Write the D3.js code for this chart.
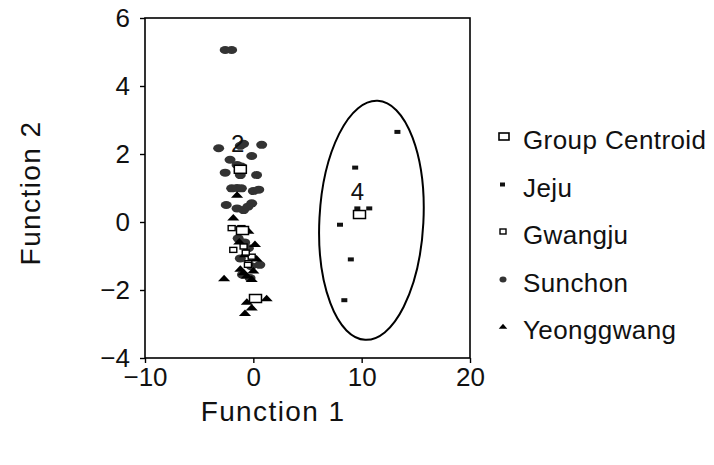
<!doctype html>
<html>
<head>
<meta charset="utf-8">
<title>Discriminant functions</title>
<script src="https://cdnjs.cloudflare.com/ajax/libs/d3/7.8.5/d3.min.js"></script>
<style>
  body { margin: 0; background: #fff; }
  svg { display: block; font-family: "Liberation Sans", Arial, sans-serif; }
  .frame { fill: none; stroke: #000; stroke-width: 1.6; }
  .tick text { font-size: 26px; fill: #111; }
  .tick line { stroke: #000; stroke-width: 1.4; }
  .domain { display: none; }
  .title { font-size: 28px; fill: #111; letter-spacing: 1.4px; }
  .legend text { font-size: 26px; fill: #111; letter-spacing: 0.4px; }
</style>
</head>
<body>
<svg width="714" height="465"></svg>
<script>
// values (function 1, function 2)
var jeju = [[13.3, 2.65], [9.4, 1.6], [10.7, 0.4], [9.6, 0.4], [8.0, -0.08], [9.0, -1.1], [8.4, -2.3]];
var sunchon = [[-2.6, 5.06], [-2.0, 5.06], [-3.2, 2.17], [0.77, 2.27], [-1.2, 2.24], [-0.9, 2.3],
  [-0.15, 1.94], [-2.15, 1.83], [-1.5, 1.68], [-1.1, 1.63], [-1.3, 1.5], [-2.6, 1.45], [0.3, 1.38],
  [-1.2, 1.38], [-2.0, 0.99], [-1.5, 1.0], [-1.1, 0.99], [0.0, 0.91], [0.5, 0.95], [-2.5, 0.5],
  [-1.5, 0.4], [-0.15, 0.55], [-0.9, 0.35], [-0.5, 0.45], [-1.4, -0.48], [-0.46, -0.77],
  [0.6, -1.26], [-1.2, -1.07], [-0.2, -1.3], [-0.8, -0.6], [-1.0, -1.55], [-0.3, -1.65]];
var gwangju = [[-2.0, -0.18], [-1.85, -0.82], [-0.9, -0.72], [-0.46, -1.21], [-0.15, -1.02],
  [-1.1, -0.18], [-0.7, -0.9], [-0.5, -1.26]];
var yeonggwang = [[-2.7, -1.68], [1.23, -2.27], [-0.6, -2.37], [-0.15, -2.54], [-0.77, -2.7],
  [-1.85, 0.11], [-1.5, 0.78], [-0.46, -0.28], [0.15, -0.67], [-0.9, -1.5], [-0.15, -1.7],
  [-1.2, -1.4], [-0.6, -1.6], [0.3, -1.1], [-0.77, -0.97], [-1.3, -0.6], [0.0, -1.45]];
var centroids = [[9.8, 0.22], [-1.2, 1.55], [-1.0, -0.25], [0.2, -2.25]];
var centroidLabels = [{ t: "4", x: 9.6, y: 0.65 }, { t: "2", x: -1.45, y: 2.05 }];
var ellipse = { cx: 10.9, cy: 0.05, rx: 4.8, ry: 3.52, tilt: 3 };
var xTicks = [-10, 0, 10, 20];
var yTicks = [-4, -2, 0, 2, 4, 6];
var legendItems = ["Group Centroid", "Jeju", "Gwangju", "Sunchon", "Yeonggwang"];

var svg = d3.select("svg");
var x = d3.scaleLinear().domain([-10, 20]).range([145, 470]);
var y = d3.scaleLinear().domain([-4, 6]).range([358, 18]);

svg.append("rect").attr("class", "frame")
  .attr("x", 145).attr("y", 18).attr("width", 325).attr("height", 340);

var fmt = function (d) { return d < 0 ? "\u2212" + Math.abs(d) : d; };
svg.append("g").attr("transform", "translate(0,358)")
  .call(d3.axisBottom(x).tickValues(xTicks).tickFormat(fmt).tickSize(5).tickPadding(5));
svg.append("g").attr("transform", "translate(145,0)")
  .call(d3.axisLeft(y).tickValues(yTicks).tickFormat(fmt).tickSize(5).tickPadding(10));

svg.append("text").attr("class", "title").attr("x", 273).attr("y", 421)
  .attr("text-anchor", "middle").text("Function 1");
svg.append("text").attr("class", "title")
  .attr("transform", "translate(40,193) rotate(-90)")
  .attr("text-anchor", "middle").text("Function 2");

// ellipse round the Jeju group
svg.append("ellipse")
  .attr("cx", x(ellipse.cx)).attr("cy", y(ellipse.cy))
  .attr("rx", x(ellipse.rx) - x(0)).attr("ry", y(0) - y(ellipse.ry))
  .attr("transform", "rotate(" + ellipse.tilt + "," + x(ellipse.cx) + "," + y(ellipse.cy) + ")")
  .attr("fill", "none").attr("stroke", "#000").attr("stroke-width", 2);

var tri = d3.symbol().type(d3.symbolTriangle).size(38);

svg.append("g").selectAll("ellipse").data(sunchon).enter().append("ellipse")
  .attr("cx", d => x(d[0])).attr("cy", d => y(d[1]))
  .attr("rx", 5.5).attr("ry", 4).attr("fill", "#333");

svg.append("g").selectAll("path").data(yeonggwang).enter().append("path")
  .attr("d", tri).attr("transform", d => "translate(" + x(d[0]) + "," + y(d[1]) + ") scale(1.3,0.8)")
  .attr("fill", "#000");

svg.append("g").selectAll("rect").data(gwangju).enter().append("rect")
  .attr("x", d => x(d[0]) - 3.5).attr("y", d => y(d[1]) - 2.5)
  .attr("width", 7).attr("height", 5)
  .attr("fill", "#fff").attr("stroke", "#000").attr("stroke-width", 1.4);

svg.append("g").selectAll("rect").data(jeju).enter().append("rect")
  .attr("x", d => x(d[0]) - 3).attr("y", d => y(d[1]) - 2)
  .attr("width", 6).attr("height", 4).attr("fill", "#111");

svg.append("g").selectAll("rect").data(centroids).enter().append("rect")
  .attr("x", d => x(d[0]) - 6).attr("y", d => y(d[1]) - 4)
  .attr("width", 12).attr("height", 8)
  .attr("fill", "#fff").attr("stroke", "#000").attr("stroke-width", 1.5);

svg.append("g").selectAll("text").data(centroidLabels).enter().append("text")
  .attr("x", d => x(d.x)).attr("y", d => y(d.y))
  .attr("text-anchor", "middle").attr("font-size", 24).attr("fill", "#111")
  .text(d => d.t);

// legend
var lg = svg.append("g").attr("class", "legend");
var rowY = d3.scalePoint().domain(legendItems).range([140, 330]);
lg.selectAll("text").data(legendItems).enter().append("text")
  .attr("x", 523).attr("y", d => rowY(d) + 9).text(d => d);

var ly = legendItems.map(rowY);
lg.append("rect").attr("x", 499).attr("y", ly[0] - 7).attr("width", 10).attr("height", 7)
  .attr("fill", "#fff").attr("stroke", "#000").attr("stroke-width", 1.6);
lg.append("rect").attr("x", 500).attr("y", ly[1] - 5).attr("width", 5).attr("height", 4).attr("fill", "#111");
lg.append("rect").attr("x", 500).attr("y", ly[2] - 6).attr("width", 6).attr("height", 5)
  .attr("fill", "#fff").attr("stroke", "#000").attr("stroke-width", 1.4);
lg.append("ellipse").attr("cx", 503).attr("cy", ly[3] - 3).attr("rx", 3.5).attr("ry", 3).attr("fill", "#333");
lg.append("path").attr("d", d3.symbol().type(d3.symbolTriangle).size(22))
  .attr("transform", "translate(503," + (ly[4] - 3) + ") scale(1.2,0.8)").attr("fill", "#000");
</script>
</body>
</html>
